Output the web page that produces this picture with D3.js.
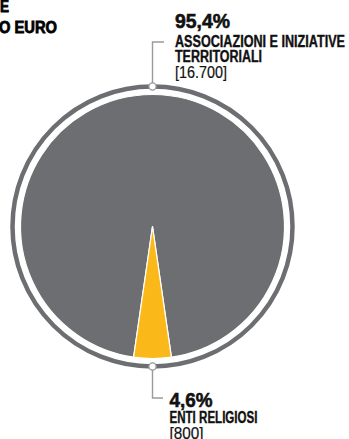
<!DOCTYPE html>
<html>
<head>
<meta charset="utf-8">
<script src="https://cdn.jsdelivr.net/npm/d3@7"></script>
<style>
  html, body { margin: 0; padding: 0; background: #fff; }
  svg { display: block; }
  text { font-family: "Liberation Sans", Arial, sans-serif; }
</style>
</head>
<body>
<svg id="chart" width="349" height="439"></svg>
<script>
// Beneficiaries and amounts (thousands of euro)
const categories = ["ASSOCIAZIONI E INIZIATIVE TERRITORIALI", "ENTI RELIGIOSI"];
const labelLines = [["ASSOCIAZIONI E INIZIATIVE", "TERRITORIALI"], ["ENTI RELIGIOSI"]];
const values = [16700, 800];
const amountLabels = ["[16.700]", "[800]"];
const percentLabels = ["95,4%", "4,6%"];
const colors = ["#6d6e71", "#fbb919"];
const titleLines = ["E", "O EURO"];

const svg = d3.select("#chart");
const cx = 152.5, cy = 226.5;
const pieR = 132, ringR = 140;

const total = d3.sum(values);
const smallAngle = 2 * Math.PI * values[1] / total;
// centre the small slice on the bottom of the circle
const pie = d3.pie().sort(null)
  .startAngle(Math.PI + smallAngle / 2)
  .endAngle(3 * Math.PI + smallAngle / 2);
const arc = d3.arc().innerRadius(0).outerRadius(pieR);

const g = svg.append("g").attr("transform", `translate(${cx},${cy})`);

// outer ring
g.append("circle")
  .attr("r", ringR)
  .attr("fill", "none")
  .attr("stroke", "#6d6e71")
  .attr("stroke-width", 4.5);

g.selectAll("path.slice")
  .data(pie(values))
  .join("path")
  .attr("class", "slice")
  .attr("d", arc)
  .attr("fill", (d, i) => colors[i])
  .attr("stroke", "#fff")
  .attr("stroke-width", 1.2)
  .attr("stroke-linejoin", "round");

// leaders
const leaderColor = "#9a9a9a";
const leaders = [
  { dotY: cy - ringR, elbowY: 42, endX: 164 },
  { dotY: cy + ringR, elbowY: 398, endX: 163 }
];
leaders.forEach(l => {
  svg.append("path")
    .attr("d", `M${cx},${l.dotY} V${l.elbowY} H${l.endX}`)
    .attr("fill", "none")
    .attr("stroke", leaderColor)
    .attr("stroke-width", 1.4);
  svg.append("circle")
    .attr("cx", cx).attr("cy", l.dotY).attr("r", 3.6)
    .attr("fill", "#fff")
    .attr("stroke", leaderColor)
    .attr("stroke-width", 1.3);
});

// squeeze a text element into a given width, optionally thickening it
function fit(sel, w, thick) {
  sel.attr("textLength", w).attr("lengthAdjust", "spacingAndGlyphs");
  if (thick) sel.attr("stroke", sel.attr("fill")).attr("stroke-width", thick);
  return sel;
}

// labels
const labelSpecs = [
  { x: 175, pct: { y: 28, w: 55 }, lines: [{ y: 47, w: 170 }, { y: 62, w: 87 }], amt: { y: 77.5, w: 52 } },
  { x: 169.5, pct: { y: 406.5, w: 43 }, lines: [{ y: 423, w: 88 }], amt: { y: 439, w: 34 } }
];
labelSpecs.forEach((s, i) => {
  fit(svg.append("text")
    .attr("x", s.x).attr("y", s.pct.y)
    .attr("font-size", 21).attr("font-weight", 700)
    .attr("fill", "#111")
    .text(percentLabels[i]), s.pct.w, 0.6);
  labelLines[i].forEach((t, j) => {
    fit(svg.append("text")
      .attr("x", s.x).attr("y", s.lines[j].y)
      .attr("font-size", 16.8).attr("font-weight", 700)
      .attr("fill", "#111")
      .text(t), s.lines[j].w, 0.4);
  });
  fit(svg.append("text")
    .attr("x", s.x).attr("y", s.amt.y)
    .attr("font-size", 16.5).attr("font-weight", 400)
    .attr("fill", "#111")
    .text(amountLabels[i]), s.amt.w, 0.2);
});

// title fragment at the top left
fit(svg.append("text")
  .attr("x", 0).attr("y", 12)
  .attr("font-size", 16).attr("font-weight", 900)
  .attr("fill", "#000")
  .text(titleLines[0]), 9, 0.8);
fit(svg.append("text")
  .attr("x", -1).attr("y", 33)
  .attr("font-size", 16).attr("font-weight", 900)
  .attr("fill", "#000")
  .text(titleLines[1]), 58, 0.8);
</script>
</body>
</html>
